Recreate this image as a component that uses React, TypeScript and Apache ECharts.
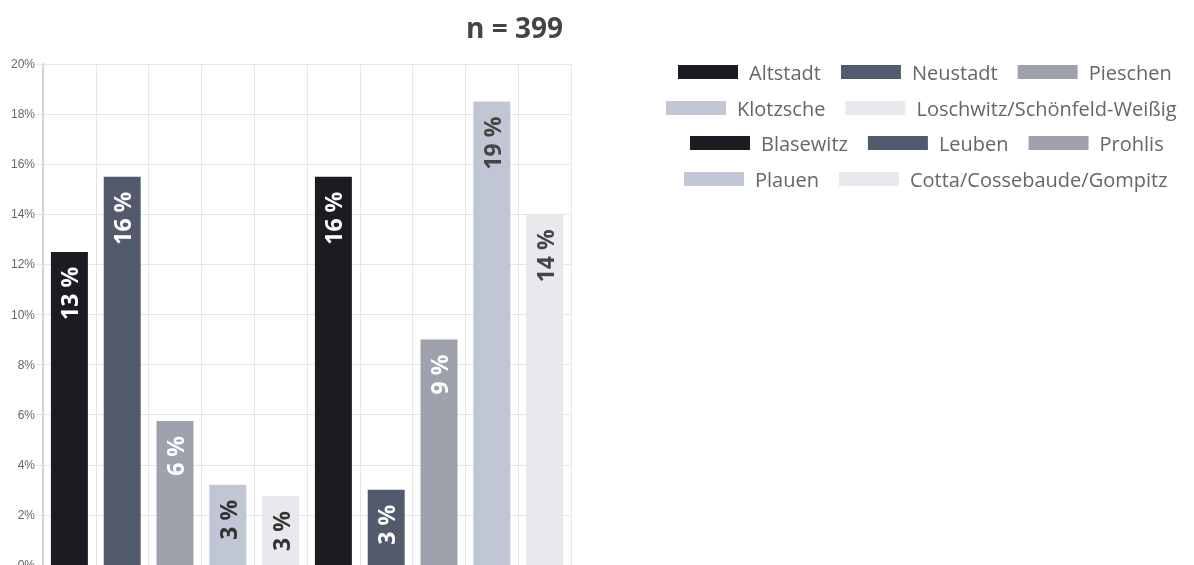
import React, { useEffect, useRef } from "react";
import * as echarts from "echarts";

const districts = [
  "Altstadt", "Neustadt", "Pieschen", "Klotzsche", "Loschwitz/Schönfeld-Weißig",
  "Blasewitz", "Leuben", "Prohlis", "Plauen", "Cotta/Cossebaude/Gompitz",
];
const shares = [12.5, 15.5, 5.75, 3.2, 2.75, 15.5, 3.0, 9.0, 18.5, 14.0];
const colors = [
  "#1b1c21", "#545a6e", "#9fa2ad", "#c1c6d4", "#e8e9ed",
  "#1b1c21", "#545a6e", "#9fa2ad", "#c1c6d4", "#e8e9ed",
];
const labelColors = [
  "#ffffff", "#ffffff", "#ffffff", "#333333", "#333333",
  "#ffffff", "#ffffff", "#ffffff", "#444444", "#444444",
];
const legendRows = [
  ["Altstadt", "Neustadt", "Pieschen"],
  ["Klotzsche", "Loschwitz/Schönfeld-Weißig"],
  ["Blasewitz", "Leuben", "Prohlis"],
  ["Plauen", "Cotta/Cossebaude/Gompitz"],
];
const legendLeft = [673, 661, 685, 679];
const legendCenterY = [72, 108, 143, 179];
const yTicks = [0, 2, 4, 6, 8, 10, 12, 14, 16, 18, 20];
const title = "n = 399";

export default function App() {
  const ref = useRef<HTMLDivElement>(null);
  useEffect(() => {
    const chart = echarts.init(ref.current!, null, { renderer: "svg" });
    const series = districts.map((name, i) => ({
      name,
      type: "bar",
      stack: "all",
      barWidth: "70%",
      itemStyle: { color: colors[i] },
      data: districts.map((_, j) => (j === i ? shares[i] : "-")),
      label: {
        show: true,
        position: "insideTop",
        rotate: 90,
        align: "right",
        verticalAlign: "middle",
        distance: 15,
        color: labelColors[i],
        fontFamily: "Open Sans",
        fontWeight: "bold",
        fontSize: 23,
        formatter: (p: any) => Math.round(p.value) + " %",
      },
    }));
    chart.setOption({
      animation: false,
      title: {
        text: title,
        left: 461,
        top: 8,
        textStyle: { fontFamily: "Open Sans", fontWeight: "bold", fontSize: 28, color: "#444" },
      },
      legend: legendRows.map((row, r) => ({
        data: row,
        left: legendLeft[r],
        top: legendCenterY[r] - 16,
        orient: "horizontal",
        icon: "rect",
        itemWidth: 60,
        itemHeight: 14,
        itemGap: 20,
        selectedMode: false,
        textStyle: {
          fontFamily: "Open Sans",
          fontSize: 20,
          color: "#666",
          lineHeight: 22,
          padding: [0, 0, 0, 6],
        },
      })),
      grid: {
        left: 43,
        right: 623,
        top: 64,
        bottom: 0,
        containLabel: false,
        outerBoundsMode: "none",
      },
      xAxis: {
        type: "category",
        data: districts,
        axisLabel: { show: false, interval: 0 },
        axisTick: { show: false, interval: 0 },
        axisLine: { show: false },
        splitLine: { show: true, interval: 0, lineStyle: { color: "#e6e6e6" } },
      },
      yAxis: {
        type: "value",
        min: 0,
        max: 20,
        interval: 2,
        axisLine: { show: true, lineStyle: { color: "#d4d4d4", width: 2 } },
        axisTick: { show: true, length: 7, lineStyle: { color: "#e6e6e6" } },
        splitLine: { show: true, lineStyle: { color: "#e6e6e6" } },
        axisLabel: {
          formatter: (v: number) => (yTicks.includes(v) ? v + "%" : ""),
          color: "#666",
          fontFamily: "Arial",
          fontSize: 12,
          margin: 8,
        },
      },
      series,
    });
    return () => chart.dispose();
  }, []);
  return (
    <div
      ref={ref}
      style={{ position: "fixed", left: 0, top: 0, width: 1194, height: 565 }}
    />
  );
}
